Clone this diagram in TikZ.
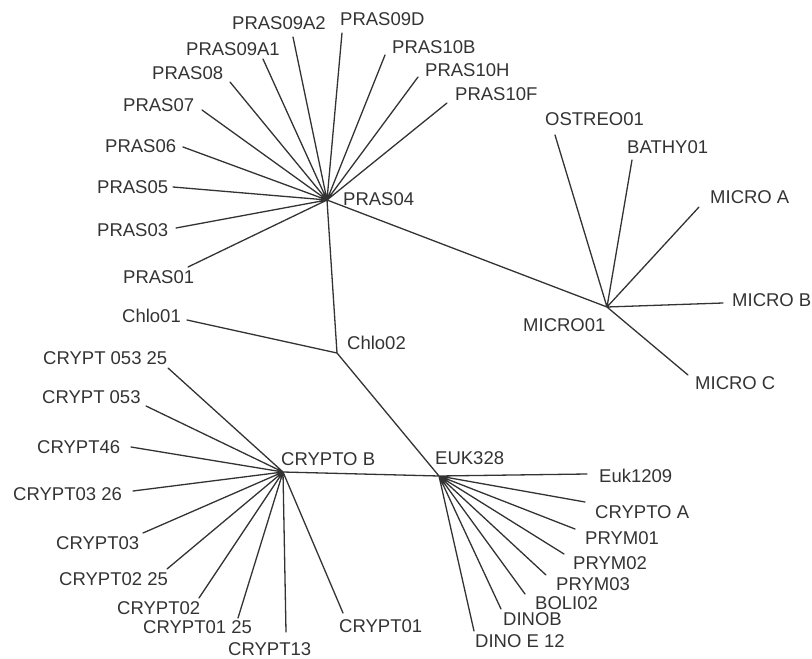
\documentclass[tikz,border=0pt]{standalone}
\usepackage{fontspec}
\setmainfont{Liberation Sans}
\definecolor{ink}{HTML}{333333}
\tikzset{
	leaf/.style={anchor=west, inner sep=0pt, text=ink, font=\fontsize{18.5}{22}\selectfont},
	branch/.style={draw=ink, line width=1.3pt, line cap=round}
}
\begin{document}
\begin{tikzpicture}[x=1pt,y=-1pt]
	\useasboundingbox (0,0) rectangle (812,659);
	\coordinate (p4) at (327,200);
	\coordinate (c2) at (337,353);
	\coordinate (cb) at (283,472);
	\coordinate (eu) at (439,476);
	\coordinate (mi) at (607,307);
	\coordinate (p01) at (188,267);
	\coordinate (p03) at (176,228);
	\coordinate (p05) at (173,187);
	\coordinate (p06) at (183,147);
	\coordinate (p07) at (202,110);
	\coordinate (p08) at (230,82);
	\coordinate (p9a1) at (263,59);
	\coordinate (p9a2) at (293,37);
	\coordinate (p9d) at (342,33);
	\coordinate (p10b) at (385,55);
	\coordinate (p10h) at (418,77);
	\coordinate (p10f) at (447,103);
	\coordinate (c1) at (187,320);
	\coordinate (m1) at (555,135);
	\coordinate (m2) at (632,160);
	\coordinate (ma) at (699,207);
	\coordinate (mb) at (723,303);
	\coordinate (mc) at (688,375);
	\coordinate (k1) at (168,368);
	\coordinate (k2) at (146,406);
	\coordinate (k3) at (131,447);
	\coordinate (k4) at (133,491);
	\coordinate (k5) at (143,533);
	\coordinate (k6) at (167,569);
	\coordinate (k7) at (199,598);
	\coordinate (k8) at (238,618);
	\coordinate (k9) at (286,632);
	\coordinate (k10) at (343,613);
	\coordinate (e1) at (587,474);
	\coordinate (e2) at (585,502);
	\coordinate (e3) at (575,529);
	\coordinate (e4) at (564,554);
	\coordinate (e5) at (546,575);
	\coordinate (e6) at (525,594);
	\coordinate (e7) at (501,609);
	\coordinate (e8) at (474,631);
	\node[leaf] (lp01) at (123,277) {PRAS01};
	\node[leaf] (lp03) at (97,230) {PRAS03};
	\node[leaf] (lp05) at (97,187) {PRAS05};
	\node[leaf] (lp06) at (105,146) {PRAS06};
	\node[leaf] (lp07) at (123,105) {PRAS07};
	\node[leaf] (lp08) at (152,73) {PRAS08};
	\node[leaf] (lp9a1) at (186,49) {PRAS09A1};
	\node[leaf] (lp9a2) at (232,23) {PRAS09A2};
	\node[leaf] (lp9d) at (340,19) {PRAS09D};
	\node[leaf] (lp10b) at (392,47) {PRAS10B};
	\node[leaf] (lp10h) at (425,70) {PRAS10H};
	\node[leaf] (lp10f) at (455,94) {PRAS10F};
	\node[leaf] (lp4) at (343,199) {PRAS04};
	\node[leaf] (lc1) at (122,316) {Chlo01};
	\node[leaf] (lc2) at (347,343) {Chlo02};
	\node[leaf] (lm1) at (545,119) {OSTREO01};
	\node[leaf] (lm2) at (627,147) {BATHY01};
	\node[leaf] (lma) at (710,197) {MICRO A};
	\node[leaf] (lmb) at (732,300) {MICRO B};
	\node[leaf] (lmc) at (695,383) {MICRO C};
	\node[leaf] (lmi) at (523,325) {MICRO01};
	\node[leaf] (lk1) at (43,358) {CRYPT 053 25};
	\node[leaf] (lk2) at (42,397) {CRYPT 053};
	\node[leaf] (lk3) at (37,447) {CRYPT46};
	\node[leaf] (lk4) at (13,494) {CRYPT03 26};
	\node[leaf] (lk5) at (56,543) {CRYPT03};
	\node[leaf] (lk6) at (59,579) {CRYPT02 25};
	\node[leaf] (lk7) at (117,608) {CRYPT02};
	\node[leaf] (lk8) at (143,627) {CRYPT01 25};
	\node[leaf] (lk9) at (228,649) {CRYPT13};
	\node[leaf] (lk10) at (339,626) {CRYPT01};
	\node[leaf] (lcb) at (281,459) {CRYPTO B};
	\node[leaf] (le1) at (599,476) {Euk1209};
	\node[leaf] (le2) at (595,512) {CRYPTO A};
	\node[leaf] (le3) at (585,538) {PRYM01};
	\node[leaf] (le4) at (573,563) {PRYM02};
	\node[leaf] (le5) at (556,584) {PRYM03};
	\node[leaf] (le6) at (535,603) {BOLI02};
	\node[leaf] (le7) at (503,619) {DINOB};
	\node[leaf] (le8) at (475,641) {DINO E 12};
	\node[leaf] (leu) at (435,458) {EUK328};
	\draw[branch]
		(mi) -- (p4) -- (c2) -- (eu) -- (cb)
		(c2) -- (c1)
		(p4) -- (p01) (p4) -- (p03) (p4) -- (p05) (p4) -- (p06)
		(p4) -- (p07) (p4) -- (p08) (p4) -- (p9a1) (p4) -- (p9a2)
		(p4) -- (p9d) (p4) -- (p10b) (p4) -- (p10h) (p4) -- (p10f)
		(mi) -- (m1) (mi) -- (m2) (mi) -- (ma) (mi) -- (mb) (mi) -- (mc)
		(cb) -- (k1) (cb) -- (k2) (cb) -- (k3) (cb) -- (k4) (cb) -- (k5)
		(cb) -- (k6) (cb) -- (k7) (cb) -- (k8) (cb) -- (k9) (cb) -- (k10)
		(eu) -- (e1) (eu) -- (e2) (eu) -- (e3) (eu) -- (e4)
		(eu) -- (e5) (eu) -- (e6) (eu) -- (e7) (eu) -- (e8);
\end{tikzpicture}
\end{document}
